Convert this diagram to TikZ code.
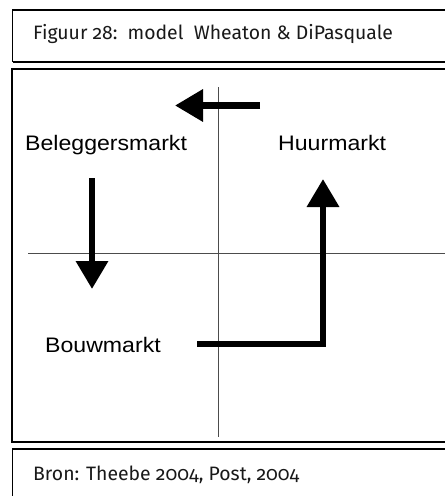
\documentclass[tikz,border=0pt]{standalone}
\usepackage{fontspec}
\usetikzlibrary{arrows.meta}
\newfontfamily\labelfont{Liberation Sans}
\newfontfamily\capfont[Numbers=OldStyle]{Fira Sans}
\tikzset{
  frame/.style={draw=black, line width=1.3pt},
  axis/.style={draw=black!70, line width=0.9pt},
  flow/.style={line width=6.5pt, line join=miter,
    -{Triangle[length=28pt, width=31pt]}},
  market/.style={anchor=base west, inner sep=0pt, text=black,
    font=\labelfont\fontsize{21}{24}\selectfont},
  caption/.style={anchor=base west, inner sep=0pt, text=black!90,
    font=\capfont\fontsize{19.4}{22}\selectfont},
}
\begin{document}
\begin{tikzpicture}[x=1pt, y=-1pt]
  \useasboundingbox (0,0) rectangle (445,496);
  \fill[white] (0,0) rectangle (445,496);

  % title frame
  \draw[frame] (460,10) -- (12.5,10) -- (12.5,61.5) -- (460,61.5);
  \draw[black, line width=2pt] (12.5,61.5) -- (460,61.5);
  \node[caption] (title) at (33,39.5) {Figuur 28:\ \ model\ \ Wheaton \& DiPasquale};

  % diagram frame
  \draw[frame, line width=1.6pt] (460,69) -- (12,69) -- (12,442) -- (460,442);

  % source frame
  \draw[frame] (460,449) -- (12.5,449) -- (12.5,500);
  \node[caption] (source) at (33,480) {Bron: Theebe 2004, Post, 2004};

  % axes
  \coordinate (xl) at (28,253);
  \coordinate (xr) at (446,253);
  \coordinate (yt) at (218,87);
  \coordinate (yb) at (218,437);
  \draw[axis] (xl) -- (xr);
  \draw[axis] (yt) -- (yb);

  % market labels
  \node[market] (beleg) at (25,150) {\scalebox{1.1}[1]{Beleggersmarkt}};
  \node[market] (huur) at (278,150) {\scalebox{1.1}[1]{Huurmarkt}};
  \node[market] (bouw) at (45,352.7) {\scalebox{1.1}[1]{Bouwmarkt}};

  % flows between the markets
  \coordinate (topS) at (260,105.5);
  \coordinate (topE) at (175,105.5);
  \coordinate (leftS) at (92,178);
  \coordinate (leftE) at (92,289);
  \coordinate (rightS) at (197,344);
  \coordinate (rightE) at (323,179);
  \draw[flow] (topS) -- (topE);
  \draw[flow] (leftS) -- (leftE);
  \draw[flow] (rightS) -| (rightE);
\end{tikzpicture}
\end{document}
